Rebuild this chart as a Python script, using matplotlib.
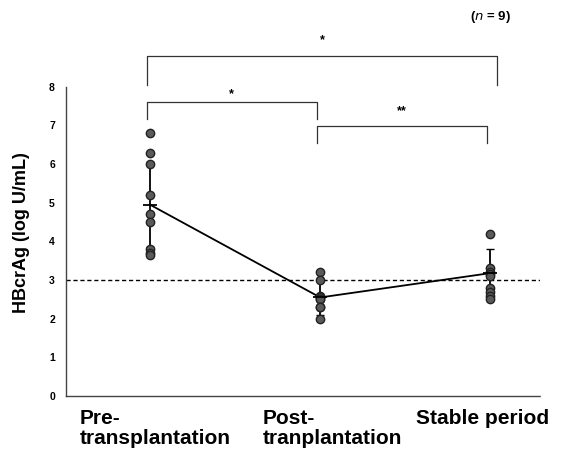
import matplotlib.pyplot as plt

# data
groups = ['Pre-\ntransplantation', 'Post-\ntranplantation', 'Stable period']
pre_vals = [6.8, 6.3, 6.0, 5.2, 4.7, 4.5, 3.8, 3.7, 3.65]
post_vals = [3.2, 3.0, 2.6, 2.55, 2.5, 2.5, 2.3, 2.3, 2.0]
stable_vals = [4.2, 3.3, 3.2, 3.15, 3.1, 2.8, 2.7, 2.6, 2.5]
means = [4.95, 2.55, 3.18]
sds = [1.1, 0.45, 0.62]
cutoff = 3.0

plt.rcParams['font.family'] = ['Liberation Sans', 'DejaVu Sans']

fig = plt.figure(figsize=(5.64, 4.5), dpi=100)
ax = fig.add_axes([0.117, 0.12, 0.84, 0.687])

xs = [0, 1, 2]
for x, vals in zip(xs, [pre_vals, post_vals, stable_vals]):
    ax.plot([x] * len(vals), vals, 'o', color='#5a5a5a', mec='#222222',
            mew=1.0, ms=6, zorder=3)

ax.errorbar(xs, means, yerr=sds, color='black', lw=1.3, capsize=3,
            capthick=1.0, zorder=2)
ax.plot(xs, means, '_', color='black', ms=10, mew=1.3, zorder=4)

# cutoff line
ax.axhline(cutoff, color='black', ls=(0, (3, 2)), lw=1.0, zorder=1)

ax.set_xlim(-0.494, 2.29)
ax.set_ylim(0, 8)
ax.set_yticks(range(0, 9))
ax.tick_params(axis='y', length=0, labelsize=7.5, pad=8)
for t in ax.get_yticklabels():
    t.set_fontweight('bold')
ax.set_xticks([])
for s in ['top', 'right']:
    ax.spines[s].set_visible(False)
for s in ['left', 'bottom']:
    ax.spines[s].set_linestyle((0, (2, 1)))
    ax.spines[s].set_color('#444444')
    ax.spines[s].set_linewidth(1.0)

ax.set_ylabel('HBcrAg (log U/mL)', fontsize=13, fontweight='bold')
ax.yaxis.set_label_coords(-0.075, 0.53)

# x labels, one text per line (left aligned like the original)
label_x = [80 / 564, 263 / 564, 416 / 564]
for lx, g in zip(label_x, groups):
    for i, line in enumerate(g.split('\n')):
        fig.text(lx, 1 - (424 + i * 20) / 450, line, ha='left', va='baseline',
                 fontsize=15, fontweight='bold')

# significance brackets
def bracket(x1, x2, ytop, ybot, label, ylab):
    ax.plot([x1, x1, x2, x2], [ybot, ytop, ytop, ybot], color='#333333',
            lw=0.9, clip_on=False)
    ax.text((x1 + x2) / 2, ylab, label, ha='center', va='center',
            fontsize=9, fontweight='bold', clip_on=False)

bracket(-0.02, 2.04, 8.81, 8.04, '*', 9.22)
bracket(-0.02, 0.98, 7.6, 7.18, '*', 7.8)
bracket(0.98, 1.98, 6.98, 6.54, '**', 7.38)

ax.text(2.0, 9.82, '($n$ = 9)', ha='center', va='center', fontsize=9.5,
        fontweight='bold', clip_on=False)

fig.savefig('out.png', dpi=100)
